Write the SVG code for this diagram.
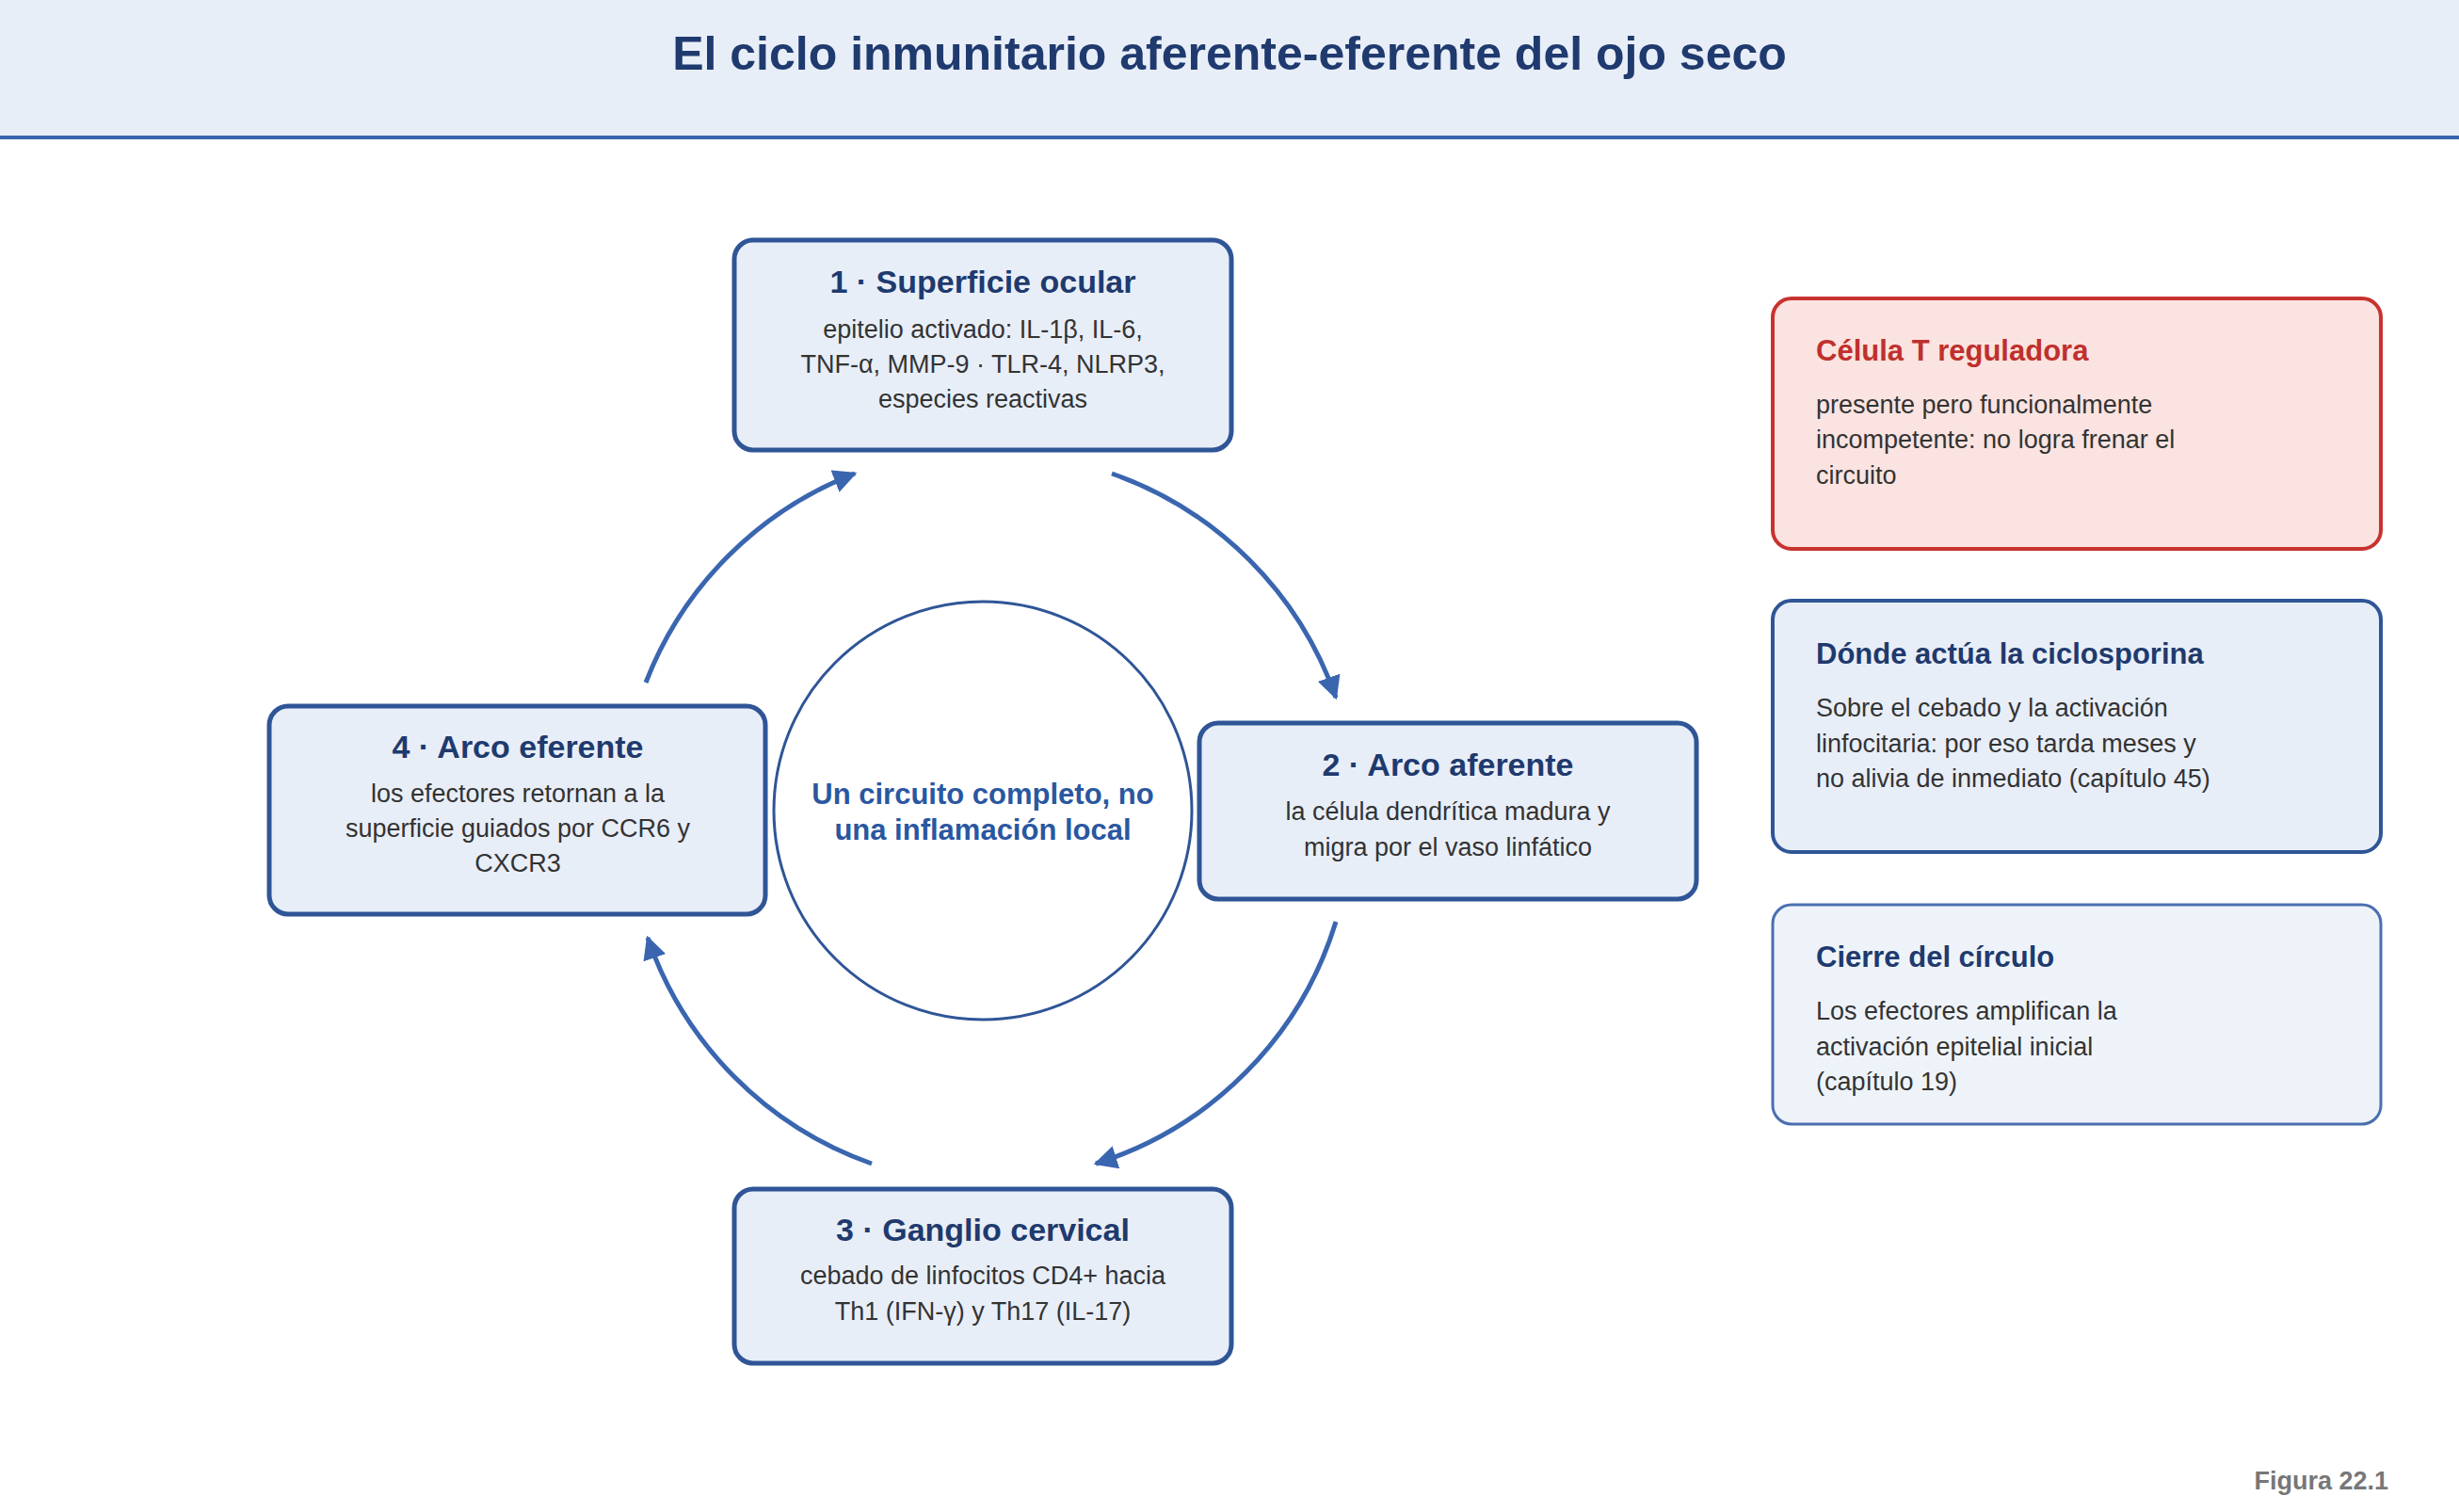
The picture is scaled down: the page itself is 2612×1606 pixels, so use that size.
<svg xmlns="http://www.w3.org/2000/svg" width="2612" height="1606" viewBox="0 0 2612 1606">
<style>
text{font-family:"Liberation Sans",Arial,sans-serif}
.node{fill:#e8eef8;stroke:#2f5597;stroke-width:5}
.nt{font-size:34px;font-weight:bold;fill:#1f3a6e;text-anchor:middle}
.nb{font-size:27px;fill:#333;text-anchor:middle}
.pt{font-size:31px;font-weight:bold;fill:#1f3a6e}
.pb{font-size:27px;fill:#333}
.arc{fill:none;stroke:#3a66b0;stroke-width:5;marker-end:url(#ah)}
</style>
<defs>
<marker id="ah" viewBox="0 0 10 10" refX="9" refY="5" markerWidth="5" markerHeight="5" orient="auto" markerUnits="strokeWidth">
<path d="M0,0 L10,5 L0,10 z" fill="#3a66b0"/>
</marker>
</defs>
<rect width="2612" height="1606" fill="#fff"/>
<g id="header">
<rect x="0" y="0" width="2612" height="146" fill="#e8eef8"/>
<rect x="0" y="144" width="2612" height="4" fill="#3a66b0"/>
<text x="1306" y="74" font-size="50" font-weight="bold" fill="#1f3a6e" text-anchor="middle">El ciclo inmunitario aferente-eferente del ojo seco</text>
</g>
<g id="connectors">
<path class="arc" d="M1181,503 A388,388 0 0 1 1419,741"/>
<path class="arc" d="M1419,979 A388,388 0 0 1 1164,1236"/>
<path class="arc" d="M926,1236 A388,388 0 0 1 688,996"/>
<path class="arc" d="M686,725 A388,388 0 0 1 908,503"/>
</g>
<g id="center">
<circle cx="1044" cy="861" r="222" fill="#fff" stroke="#2f5597" stroke-width="3"/>
<text x="1044" y="854" font-size="31" font-weight="bold" fill="#2a57a0" text-anchor="middle">Un circuito completo, no</text>
<text x="1044" y="892" font-size="31" font-weight="bold" fill="#2a57a0" text-anchor="middle">una inflamación local</text>
</g>
<g id="node1">
<rect class="node" x="780" y="255" width="528" height="223" rx="20"/>
<text class="nt" x="1044" y="311">1 · Superficie ocular</text>
<text class="nb" x="1044" y="359">epitelio activado: IL-1β, IL-6,</text>
<text class="nb" x="1044" y="396">TNF-α, MMP-9 · TLR-4, NLRP3,</text>
<text class="nb" x="1044" y="433">especies reactivas</text>
</g>
<g id="node2">
<rect class="node" x="1274" y="768" width="528" height="187" rx="20"/>
<text class="nt" x="1538" y="824">2 · Arco aferente</text>
<text class="nb" x="1538" y="871">la célula dendrítica madura y</text>
<text class="nb" x="1538" y="909">migra por el vaso linfático</text>
</g>
<g id="node3">
<rect class="node" x="780" y="1263" width="528" height="185" rx="20"/>
<text class="nt" x="1044" y="1318">3 · Ganglio cervical</text>
<text class="nb" x="1044" y="1364">cebado de linfocitos CD4+ hacia</text>
<text class="nb" x="1044" y="1402">Th1 (IFN-γ) y Th17 (IL-17)</text>
</g>
<g id="node4">
<rect class="node" x="286" y="750" width="527" height="221" rx="20"/>
<text class="nt" x="550" y="805">4 · Arco eferente</text>
<text class="nb" x="550" y="852">los efectores retornan a la</text>
<text class="nb" x="550" y="889">superficie guiados por CCR6 y</text>
<text class="nb" x="550" y="926">CXCR3</text>
</g>
<g id="panel1">
<rect x="1883" y="317" width="646" height="266" rx="20" fill="#fae3e0" stroke="#c8322f" stroke-width="4"/>
<text class="pt" x="1929" y="383" fill="#c0302c" style="fill:#c0302c">Célula T reguladora</text>
<text class="pb" x="1929" y="439">presente pero funcionalmente</text>
<text class="pb" x="1929" y="476">incompetente: no logra frenar el</text>
<text class="pb" x="1929" y="514">circuito</text>
</g>
<g id="panel2">
<rect x="1883" y="638" width="646" height="267" rx="20" fill="#e8eef8" stroke="#2f5597" stroke-width="4"/>
<text class="pt" x="1929" y="705">Dónde actúa la ciclosporina</text>
<text class="pb" x="1929" y="761">Sobre el cebado y la activación</text>
<text class="pb" x="1929" y="799">linfocitaria: por eso tarda meses y</text>
<text class="pb" x="1929" y="836">no alivia de inmediato (capítulo 45)</text>
</g>
<g id="panel3">
<rect x="1883" y="961" width="646" height="233" rx="20" fill="#eef3f9" stroke="#4a6fb0" stroke-width="3"/>
<text class="pt" x="1929" y="1027">Cierre del círculo</text>
<text class="pb" x="1929" y="1083">Los efectores amplifican la</text>
<text class="pb" x="1929" y="1121">activación epitelial inicial</text>
<text class="pb" x="1929" y="1158">(capítulo 19)</text>
</g>
<text x="2537" y="1582" font-size="27" font-weight="bold" fill="#777" text-anchor="end">Figura 22.1</text>
</svg>
